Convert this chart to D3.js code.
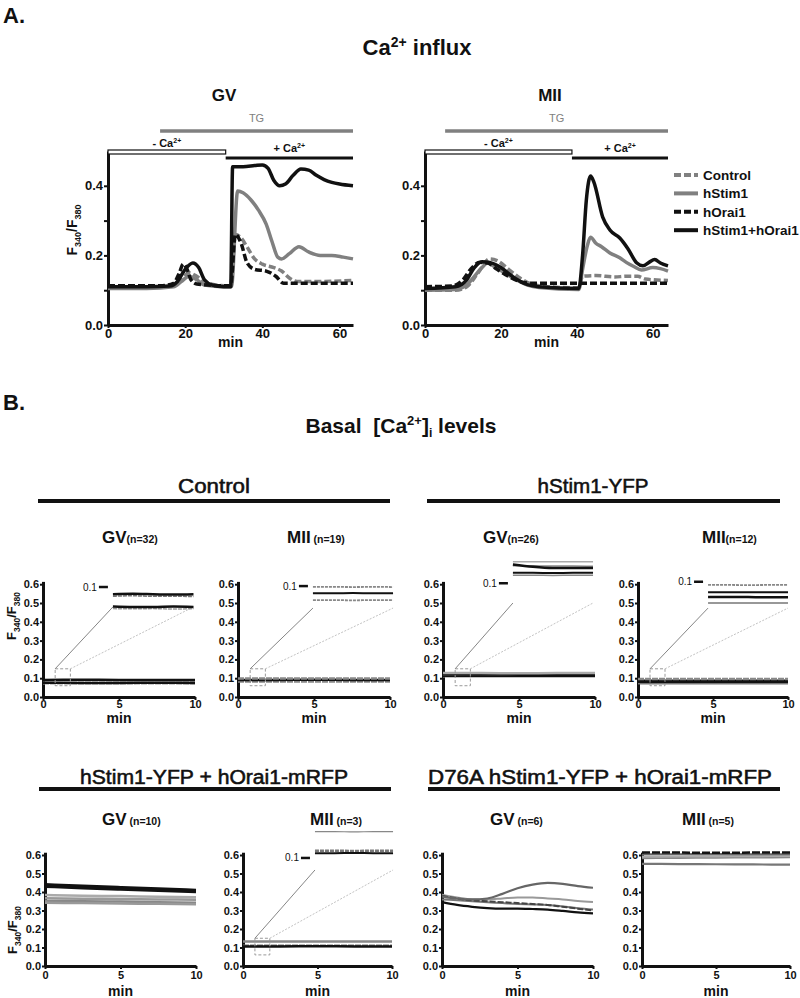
<!DOCTYPE html>
<html><head><meta charset="utf-8">
<script src="https://cdn.jsdelivr.net/npm/d3@7"></script>
<style>body{margin:0;background:#fff}svg{display:block}</style>
</head><body><svg id="c" width="800" height="998"></svg>
<script>
// ---------------- DATA ----------------
// Panel A: Ca2+ influx, [min, F340/F380]
const influxNames = ["Control", "hStim1", "hOrai1", "hStim1+hOrai1"];
const gvControl = [[0,0.11],[10,0.11],[17,0.115],[19,0.13],[21,0.15],[23,0.14],[25,0.125],[28,0.115],[31.8,0.112],[33,0.26],[34.5,0.25],[36,0.225],[38,0.19],[40,0.175],[43,0.165],[45,0.155],[47,0.135],[49,0.125],[55,0.125],[63.5,0.128]];
const gvStim = [[0,0.105],[10,0.105],[17,0.11],[19,0.125],[21,0.14],[23,0.13],[25,0.115],[30,0.11],[32,0.11],[33.6,0.385],[35,0.38],[37,0.36],[39,0.33],[41,0.29],[42.5,0.24],[44,0.195],[45,0.19],[47,0.205],[49.5,0.225],[52,0.21],[55,0.2],[58,0.2],[61,0.195],[63.5,0.19]];
const gvOrai = [[0,0.113],[14,0.113],[17,0.12],[18.5,0.15],[19.5,0.175],[20.5,0.16],[21.5,0.13],[23,0.118],[30,0.113],[31.8,0.113],[33,0.26],[34.5,0.235],[36,0.18],[38,0.16],[41,0.155],[43.5,0.14],[45.5,0.12],[50,0.12],[63.5,0.12]];
const gvStimOrai = [[0,0.11],[10,0.11],[16,0.112],[18,0.125],[20,0.16],[22,0.178],[23.5,0.165],[25,0.13],[27,0.115],[30,0.11],[31.8,0.11],[32.3,0.455],[35,0.455],[38,0.458],[40,0.46],[41.5,0.45],[43,0.415],[44.5,0.4],[46,0.405],[48,0.43],[50,0.448],[52,0.445],[54,0.43],[56,0.418],[58,0.41],[60,0.405],[63.5,0.4]];
const miiControl = [[0,0.1],[8,0.1],[11,0.11],[14,0.15],[17,0.19],[19,0.185],[22,0.16],[25,0.135],[28,0.118],[32,0.11],[40.5,0.107],[41.5,0.14],[45,0.142],[50,0.138],[53,0.14],[56,0.14],[58,0.132],[64,0.128]];
const miiStim = [[0,0.1],[8,0.102],[11,0.115],[13,0.14],[15,0.165],[16.5,0.178],[18,0.17],[21,0.15],[24,0.13],[27,0.115],[30,0.108],[40.5,0.102],[41.5,0.16],[42.8,0.23],[43.6,0.252],[45,0.235],[46.5,0.225],[48.7,0.207],[51.3,0.193],[53,0.18],[55,0.168],[57,0.158],[60,0.165],[62,0.162],[64,0.155]];
const miiOrai = [[0,0.11],[7,0.112],[10,0.13],[12,0.16],[14.5,0.18],[16.5,0.178],[19,0.16],[22,0.14],[25,0.125],[28,0.12],[40,0.12],[64,0.12]];
const miiStimOrai = [[0,0.105],[8,0.11],[11,0.13],[13,0.165],[15,0.182],[17,0.18],[20,0.165],[23,0.14],[26,0.12],[30,0.11],[40.5,0.105],[41.5,0.2],[42.5,0.36],[43.6,0.428],[44.5,0.41],[46.8,0.31],[48.7,0.273],[51.3,0.25],[53.4,0.22],[55.8,0.178],[57.4,0.17],[59,0.18],[60.5,0.188],[62,0.178],[64,0.17]];
// treatment bars [start, end] in min
const gvTG = [13.5, 63.5], gvNoCa = [0, 30.5], gvCa = [30.5, 63.5];
const miiTG = [5.3, 64], miiNoCa = [0, 38.7], miiCa = [38.7, 64];
const influxYTicks = [0, 0.1, 0.2, 0.3, 0.4];
const influxXTicks = [0, 20, 40, 60];

// Panel B: basal levels, time in min
const tFlat = [0, 2.5, 5, 7.5, 10];
const tFull = [0, 1, 2, 3, 4, 5, 6, 7, 8, 9, 10];
const basalYTicks = [0, 0.1, 0.2, 0.3, 0.4, 0.5, 0.6];
const basalXTicks = [0, 5, 10];
const ctrlGV = [0.091, 0.0915, 0.091, 0.0905, 0.091];
const ctrlGV2 = [0.0885, 0.089, 0.0885, 0.0885, 0.088];
const ctrlGV3 = [0.0755, 0.075, 0.075, 0.0755, 0.075];
const ctrlGV4 = [0.073, 0.0728, 0.073, 0.0725, 0.073];
const ctrlMII1 = [0.099, 0.099, 0.0988, 0.099, 0.0988];
const ctrlMII2 = [0.091, 0.091, 0.0912, 0.091, 0.091];
const ctrlMII3 = [0.0825, 0.0825, 0.0822, 0.0825, 0.0825];
const stimGV1 = [0.127, 0.127, 0.1268, 0.127, 0.127];
const stimGV2 = [0.1235, 0.1205, 0.119, 0.119, 0.119];
const stimGV3 = [0.122, 0.1218, 0.1215, 0.1215, 0.1212];
const stimGV4 = [0.113, 0.113, 0.1128, 0.113, 0.113];
const stimGV5 = [0.11, 0.11, 0.1098, 0.11, 0.11];
const stimMII1 = [0.096, 0.096, 0.0958, 0.096, 0.096];
const stimMII2 = [0.087, 0.087, 0.0868, 0.087, 0.087];
const stimMII3 = [0.081, 0.081, 0.0808, 0.0805, 0.0805];
const stimMII4 = [0.0735, 0.0735, 0.0733, 0.0735, 0.0735];
const soGV1 = [0.384, 0.38, 0.378, 0.374, 0.372];
const soGV2 = [0.366, 0.364, 0.362, 0.36, 0.358];
const soGV3 = [0.352, 0.35, 0.348, 0.345, 0.342];
const soGV4 = [0.342, 0.34, 0.338, 0.336, 0.334];
const soGV5 = [0.44, 0.432, 0.425, 0.418, 0.41];
const soGV6 = [0.43, 0.422, 0.415, 0.408, 0.402];
const soMII1 = [0.133, 0.133, 0.1325, 0.133, 0.133];
const soMII2 = [0.109, 0.109, 0.1088, 0.109, 0.109];
const soMII3 = [0.106, 0.106, 0.1062, 0.106, 0.106];
const d76GV1 = [0.375, 0.365, 0.36, 0.365, 0.39, 0.42, 0.44, 0.449, 0.444, 0.432, 0.423];
const d76GV2 = [0.385, 0.37, 0.36, 0.36, 0.365, 0.37, 0.37, 0.365, 0.36, 0.352, 0.346];
const d76GV3 = [0.38, 0.365, 0.355, 0.35, 0.345, 0.34, 0.335, 0.33, 0.32, 0.31, 0.3];
const d76GV4 = [0.36, 0.355, 0.35, 0.345, 0.34, 0.335, 0.333, 0.33, 0.322, 0.312, 0.305];
const d76GV5 = [0.345, 0.33, 0.32, 0.313, 0.31, 0.31, 0.308, 0.305, 0.298, 0.29, 0.284];
const d76MII1 = [0.613, 0.613, 0.612, 0.613, 0.613];
const d76MII2 = [0.604, 0.604, 0.605, 0.604, 0.604];
const d76MII3 = [0.591, 0.592, 0.593, 0.594, 0.595];
const d76MII4 = [0.583, 0.585, 0.586, 0.587, 0.588];
const d76MII5 = [0.552, 0.551, 0.55, 0.549, 0.548];

// ---------------- DRAWING ----------------
const FONT = "'Liberation Sans', Arial, Helvetica, sans-serif";
const INK = "#111", GRAY = "#808080";
const svg = d3.select("#c").attr("font-family", FONT);
svg.append("rect").attr("width", 800).attr("height", 998).attr("fill", "#fff");

function T(x, y, parts, o = {}) {
  const t = svg.append("text").attr("x", x).attr("y", y)
    .attr("font-size", o.size || 12).attr("font-weight", o.weight || "bold")
    .attr("text-anchor", o.anchor || "start").attr("fill", o.fill || INK);
  if (o.rotate) t.attr("transform", `rotate(-90,${x},${y})`);
  if (o.stroke) t.attr("stroke", o.fill || INK).attr("stroke-width", o.stroke);
  if (o.len) t.attr("textLength", o.len).attr("lengthAdjust", "spacingAndGlyphs");
  (typeof parts === "string" ? [[parts]] : parts).forEach(([s, p = {}]) => {
    const ts = t.append("tspan").text(s);
    if (p.size) ts.attr("font-size", p.size);
    if (p.dy) ts.attr("dy", p.dy);
    if (p.weight) ts.attr("font-weight", p.weight);
  });
  return t;
}
function styleAxis(g, fs, dw) {
  g.attr("font-family", FONT);
  g.select(".domain").attr("stroke", INK).attr("stroke-width", dw);
  g.selectAll(".tick line").attr("stroke", INK).attr("stroke-width", 2);
  g.selectAll(".tick text").attr("font-size", fs).attr("font-weight", "bold").attr("fill", INK);
}

// ---- Panel A ----
T(3, 23, "A.", { size: 22 });
T(417, 55, [["Ca"], ["2+", { size: 14, dy: -8 }], [" influx", { dy: 8 }]], { size: 22, anchor: "middle" });

const seriesStyle = [
  { c: GRAY, d: "7,3" }, { c: GRAY, d: null }, { c: INK, d: "7,3" }, { c: INK, d: null }
];

function panelA(cfg) {
  const x = d3.scaleLinear().domain([0, cfg.xmax]).range([cfg.x0, cfg.x1]);
  const y = d3.scaleLinear().domain([0, 0.5]).range([325, 151]);
  const ya = svg.append("g").attr("transform", `translate(${cfg.x0},0)`)
    .call(d3.axisLeft(y).tickValues(influxYTicks).tickSize(4).tickSizeOuter(0).tickPadding(1)
      .tickFormat(d => (Math.abs(d * 10 % 2) < 1e-6 ? d3.format(".1f")(d) : "")));
  styleAxis(ya, 13, 3);
  const xa = svg.append("g").attr("transform", `translate(0,325)`)
    .call(d3.axisBottom(x).tickValues(influxXTicks).tickSize(3).tickSizeOuter(0).tickPadding(1));
  styleAxis(xa, 13, 3);
  T((cfg.x0 + cfg.x1) / 2 + 0, 347, "min", { size: 14, anchor: "middle" });
  T(cfg.titleX, 101, cfg.title, { size: 17, anchor: "middle" });
  // treatment bars
  svg.append("line").attr("x1", x(cfg.tg[0])).attr("x2", x(cfg.tg[1])).attr("y1", 131).attr("y2", 131)
    .attr("stroke", GRAY).attr("stroke-width", 3.5);
  T(x((cfg.tg[0] + cfg.tg[1]) / 2), 122, "TG", { size: 11, weight: "normal", fill: GRAY, anchor: "middle" });
  svg.append("rect").attr("x", x(cfg.noCa[0])).attr("width", x(cfg.noCa[1]) - x(cfg.noCa[0]))
    .attr("y", 150).attr("height", 4).attr("fill", "#fff").attr("stroke", INK).attr("stroke-width", 1.2);
  T(x((cfg.noCa[0] + cfg.noCa[1]) / 2), 147, [["- Ca"], ["2+", { size: 7, dy: -4 }]], { size: 11, anchor: "middle" });
  svg.append("line").attr("x1", x(cfg.ca[0])).attr("x2", x(cfg.ca[1])).attr("y1", 158).attr("y2", 158)
    .attr("stroke", INK).attr("stroke-width", 3);
  T(x((cfg.ca[0] + cfg.ca[1]) / 2), 151.5, [["+ Ca"], ["2+", { size: 7, dy: -4 }]], { size: 11, anchor: "middle" });
  const line = d3.line().x(d => x(d[0])).y(d => y(d[1])).curve(d3.curveMonotoneX);
  cfg.series.forEach((s, i) => {
    svg.append("path").datum(s).attr("d", line).attr("fill", "none")
      .attr("stroke", seriesStyle[i].c).attr("stroke-width", 3.5)
      .attr("stroke-dasharray", seriesStyle[i].d).attr("stroke-linejoin", "round");
  });
}
panelA({ x0: 108, x1: 353, xmax: 63.5, title: "GV", titleX: 224, tg: gvTG, noCa: gvNoCa, ca: gvCa,
  series: [gvControl, gvStim, gvOrai, gvStimOrai] });
panelA({ x0: 425, x1: 668, xmax: 64, title: "MII", titleX: 550, tg: miiTG, noCa: miiNoCa, ca: miiCa,
  series: [miiControl, miiStim, miiOrai, miiStimOrai] });
T(77, 230, [["F"], ["340", { size: 9, dy: 4 }], ["/F", { dy: -4 }], ["380", { size: 9, dy: 4 }]], { size: 14, anchor: "middle", rotate: true });

// legend
influxNames.forEach((n, i) => {
  const yy = 175 + i * 18.4;
  svg.append("line").attr("x1", 674).attr("x2", 698).attr("y1", yy).attr("y2", yy)
    .attr("stroke", seriesStyle[i].c).attr("stroke-width", 4).attr("stroke-dasharray", seriesStyle[i].d ? "7,3" : null);
  T(703, yy + 5, n, { size: 13.5 });
});

// ---- Panel B ----
T(3, 410, "B.", { size: 22 });
T(401, 433, [["Basal\u00a0\u00a0[Ca"], ["2+", { size: 13, dy: -8 }], ["]", { dy: 8 }], ["i", { size: 12, dy: 4 }], [" levels", { dy: -4 }]], { size: 21, anchor: "middle" });

function header(cx, yText, yBar, x0, x1, txt, len) {
  T(cx, yText, txt, { size: 20, weight: "normal", anchor: "middle", stroke: 0.55, len });
  svg.append("line").attr("x1", x0).attr("x2", x1).attr("y1", yBar).attr("y2", yBar)
    .attr("stroke", INK).attr("stroke-width", 4);
}
header(214, 493, 501, 38, 390, "Control", 72);
header(593, 493, 501, 427, 780, "hStim1-YFP", 111);
header(214, 784, 789, 39, 391, "hStim1-YFP + hOrai1-mRFP", 268);
header(600, 784, 789, 428, 780, "D76A hStim1-YFP + hOrai1-mRFP", 344);

function subTitle(x, y, big, small) {
  T(x, y, [[big, { size: 17 }], [small, { size: 10.5 }]], { size: 17 });
}
subTitle(102, 543, "GV", "(n=32)");
subTitle(287, 543, "MII", " (n=19)");
subTitle(483, 543, "GV", "(n=26)");
subTitle(702, 543, "MII", "(n=12)");
subTitle(102, 825, "GV", " (n=10)");
subTitle(310, 825, "MII", " (n=3)");
subTitle(490, 825, "GV", " (n=6)");
subTitle(682, 825, "MII", " (n=5)");

function panelB(cfg) {
  const x = d3.scaleLinear().domain([0, 10]).range([cfg.x0, cfg.x1]);
  const y = d3.scaleLinear().domain([0, 0.615]).range([cfg.y0, cfg.y0 - 0.615 * cfg.k]);
  const ya = svg.append("g").attr("transform", `translate(${cfg.x0},0)`)
    .call(d3.axisLeft(y).tickValues(basalYTicks).tickSize(3).tickSizeOuter(0).tickPadding(1).tickFormat(d3.format(".1f")));
  styleAxis(ya, 11, 3);
  const xa = svg.append("g").attr("transform", `translate(0,${cfg.y0})`)
    .call(d3.axisBottom(x).tickValues(basalXTicks).tickSize(3).tickSizeOuter(0).tickPadding(cfg.pad || 0));
  styleAxis(xa, 11, 3);
  T((cfg.x0 + cfg.x1) / 2, cfg.minY, "min", { size: 14, anchor: "middle" });
  const line = d3.line().x((d, i) => x(cfg.t[i])).y(d => y(d)).curve(d3.curveMonotoneX);
  cfg.series.forEach(s => {
    svg.append("path").datum(s.v).attr("d", line).attr("fill", "none").attr("stroke", s.c)
      .attr("stroke-width", cfg.mainW || s.w).attr("stroke-dasharray", cfg.inset ? (s.d ? "6,1" : null) : s.d);
  });
  const ins = cfg.inset;
  if (!ins) return;
  // zoom box and connectors
  const bx0 = x(0.8), bx1 = x(1.8), by0 = y(0.15), by1 = y(0.06);
  svg.append("rect").attr("x", bx0).attr("y", by0).attr("width", bx1 - bx0).attr("height", by1 - by0)
    .attr("fill", "none").attr("stroke", "#999").attr("stroke-width", 1).attr("stroke-dasharray", "3,2");
  const ix0 = x(ins.left), ix1 = x(ins.right), iyb = y(ins.bottom);
  svg.append("line").attr("x1", bx0).attr("y1", by0).attr("x2", ix0).attr("y2", iyb)
    .attr("stroke", "#777").attr("stroke-width", 0.9);
  svg.append("line").attr("x1", bx1).attr("y1", by0).attr("x2", ix1).attr("y2", iyb)
    .attr("stroke", "#bbb").attr("stroke-width", 0.9).attr("stroke-dasharray", "2,1.5");
  // inset magnified traces
  const xi = d3.scaleLinear().domain([0, 10]).range([ix0, ix1]);
  const tickY = y(ins.tickAt);
  const yi = v => tickY + (0.1 - v) * 800;
  svg.append("line").attr("x1", ix0 - 14).attr("x2", ix0 - 5).attr("y1", tickY).attr("y2", tickY)
    .attr("stroke", INK).attr("stroke-width", 2.5);
  T(ix0 - 16, tickY + 3.5, "0.1", { size: 10, weight: "normal", anchor: "end" });
  const iline = d3.line().x((d, i) => xi(cfg.t[i])).y(d => yi(d)).curve(d3.curveMonotoneX);
  cfg.series.forEach(s => {
    svg.append("path").datum(s.v).attr("d", iline).attr("fill", "none").attr("stroke", s.c)
      .attr("stroke-width", s.w).attr("stroke-dasharray", s.d);
  });
}
const R1 = { y0: 697, k: 188, minY: 723, pad: 0 };
const R2 = { y0: 966, k: 185, minY: 996, pad: 2 };
panelB({ ...R1, x0: 43, x1: 195, t: tFlat, mainW: 2.5,
  series: [{ c: "#999", w: 1.5, d: "4,1", v: ctrlGV4 }, { c: INK, w: 2.5, v: ctrlGV3 },
           { c: "#777", w: 1.5, d: "4,1", v: ctrlGV2 }, { c: INK, w: 2.5, v: ctrlGV }],
  inset: { left: 4.6, right: 9.9, bottom: 0.479, tickAt: 0.585 } });
panelB({ ...R1, x0: 238, x1: 390, t: tFlat, mainW: 2.5,
  series: [{ c: "#888", w: 1.8, d: "3,1", v: ctrlMII3 }, { c: INK, w: 2, v: ctrlMII2 }, { c: "#888", w: 1.8, d: "3,1", v: ctrlMII1 }],
  inset: { left: 4.93, right: 10.2, bottom: 0.473, tickAt: 0.59 } });
panelB({ ...R1, x0: 443, x1: 595, t: tFlat, mainW: 2.5,
  series: [{ c: "#888", w: 1.5, v: stimGV5 }, { c: INK, w: 2, v: stimGV4 }, { c: "#888", w: 1.5, v: stimGV3 },
           { c: INK, w: 2.5, v: stimGV2 }, { c: "#aaa", w: 1.5, v: stimGV1 }],
  inset: { left: 4.6, right: 9.87, bottom: 0.5, tickAt: 0.605 } });
panelB({ ...R1, x0: 638, x1: 788, t: tFlat, mainW: 2.5,
  series: [{ c: "#777", w: 1.5, v: stimMII4 }, { c: INK, w: 2.5, v: stimMII3 }, { c: INK, w: 2, v: stimMII2 },
           { c: "#888", w: 1.8, d: "3,1", v: stimMII1 }],
  inset: { left: 4.67, right: 10, bottom: 0.473, tickAt: 0.613 } });
panelB({ ...R2, x0: 45, x1: 196, t: tFlat,
  series: [{ c: "#aaa", w: 2.5, v: soGV1 }, { c: "#999", w: 2.5, v: soGV2 }, { c: "#888", w: 2.5, v: soGV3 },
           { c: "#999", w: 2.5, v: soGV4 }, { c: INK, w: 3, v: soGV5 }, { c: INK, w: 3, v: soGV6 }] });
panelB({ ...R2, x0: 243, x1: 392, t: tFlat, mainW: 2.5,
  series: [{ c: "#888", w: 1.2, v: soMII1 }, { c: "#777", w: 2.5, d: "4,1", v: soMII2 }, { c: INK, w: 2, v: soMII3 }],
  inset: { left: 4.83, right: 10.07, bottom: 0.519, tickAt: 0.584 } });
panelB({ ...R2, x0: 442, x1: 593, t: tFull,
  series: [{ c: "#999", w: 2, v: d76GV2 }, { c: "#777", w: 2, v: d76GV4 }, { c: "#444", w: 2, d: "6,2", v: d76GV3 },
           { c: "#666", w: 2.2, v: d76GV1 }, { c: INK, w: 2.2, v: d76GV5 }] });
panelB({ ...R2, x0: 642, x1: 790, t: tFlat,
  series: [{ c: "#777", w: 2.2, v: d76MII5 }, { c: "#888", w: 2.2, v: d76MII4 }, { c: "#aaa", w: 2.2, v: d76MII3 },
           { c: "#666", w: 2.2, v: d76MII2 }, { c: INK, w: 2.5, d: "8,2", v: d76MII1 }] });

T(16, 616, [["F"], ["340", { size: 8.5, dy: 4 }], ["/F", { dy: -4 }], ["380", { size: 8.5, dy: 4 }]], { size: 13, anchor: "middle", rotate: true });
T(17, 930, [["F"], ["340", { size: 8.5, dy: 4 }], ["/F", { dy: -4 }], ["380", { size: 8.5, dy: 4 }]], { size: 13, anchor: "middle", rotate: true });
</script></body></html>
